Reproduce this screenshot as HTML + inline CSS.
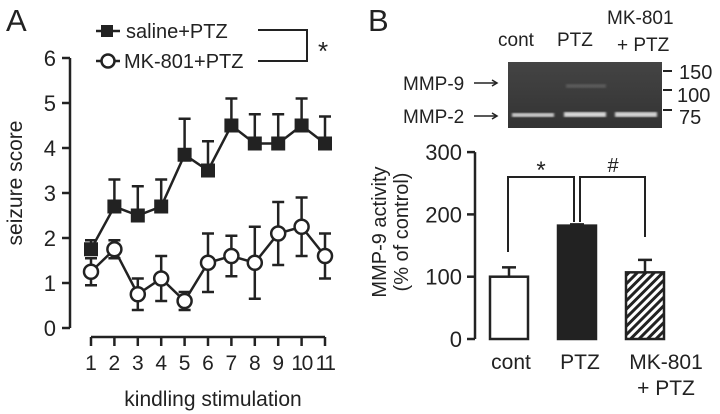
<!DOCTYPE html>
<html><head><meta charset="utf-8"><style>
html,body{margin:0;padding:0;background:#fff;width:720px;height:414px;overflow:hidden}
svg{display:block;font-family:"Liberation Sans",Arial,sans-serif;fill:#222}
</style></head><body>
<svg id="fig" width="720" height="414" viewBox="0 0 720 414">
<defs>
<pattern id="hatch" width="6" height="6" patternUnits="userSpaceOnUse" patternTransform="rotate(45)">
<rect width="6" height="6" fill="#fff"/><rect width="3" height="6" fill="#222"/></pattern>
<linearGradient id="gelg" x1="0" y1="0" x2="0" y2="1"><stop offset="0" stop-color="#444"/><stop offset="1" stop-color="#333"/></linearGradient>
<filter id="blur"><feGaussianBlur stdDeviation="1"/></filter>
</defs>
<text x="6" y="31" font-size="31">A</text>
<text x="368" y="31" font-size="31">B</text>
<g id="chartA"></g>
<g id="legendA">
<line x1="96" y1="31" x2="120" y2="31" stroke="#222" stroke-width="2.5"/>
<rect x="101" y="25" width="12" height="12" fill="#222"/>
<text x="126" y="38" font-size="20">saline+PTZ</text>
<line x1="96" y1="61" x2="120" y2="61" stroke="#222" stroke-width="2.5"/>
<circle cx="108" cy="61" r="6.5" fill="#fff" stroke="#222" stroke-width="2.5"/>
<text x="124" y="68" font-size="20">MK-801+PTZ</text>
<polyline points="258,30 307,30 307,61 258,61" fill="none" stroke="#222" stroke-width="2"/>
<text x="318" y="60" font-size="26">*</text>
</g>
<g>
<rect x="508" y="62" width="154" height="66" fill="url(#gelg)"/>
<rect x="566" y="84" width="40" height="4" fill="#666" opacity="0.7" filter="url(#blur)"/>
<rect x="512" y="113" width="42" height="4" fill="#ccc" filter="url(#blur)"/>
<rect x="564" y="112" width="42" height="5" fill="#d8d8d8" filter="url(#blur)"/>
<rect x="615" y="112" width="42" height="5" fill="#d4d4d4" filter="url(#blur)"/>
<g stroke="#222" stroke-width="2"><line x1="663" y1="71" x2="672" y2="71"/><line x1="663" y1="90" x2="672" y2="90"/><line x1="663" y1="110" x2="672" y2="110"/></g>
<g font-size="20"><text x="679" y="79">150</text><text x="677" y="102">100</text><text x="679" y="124">75</text></g>
<g font-size="19"><text x="498" y="46">cont</text><text x="557" y="46">PTZ</text><text x="607" y="24">MK-801</text><text x="617" y="51">+ PTZ</text></g>
<g font-size="19"><text x="403" y="90">MMP-9</text><text x="403" y="123">MMP-2</text></g>
<g stroke="#222" stroke-width="1.5" fill="none">
<line x1="474" y1="83" x2="497" y2="83"/><polyline points="492,80 497,83 492,86"/>
<line x1="474" y1="116" x2="497" y2="116"/><polyline points="492,113 497,116 492,119"/>
</g>
</g>
<g id="chartB"></g>
<script>
const stim=[1,2,3,4,5,6,7,8,9,10,11];
const salineMean=[1.75,2.7,2.5,2.7,3.85,3.5,4.5,4.1,4.1,4.5,4.1];
const salineErr=[0.2,0.6,0.65,0.6,0.8,0.65,0.6,0.65,0.65,0.6,0.6];
const mkMean=[1.25,1.75,0.75,1.1,0.6,1.45,1.6,1.45,2.1,2.25,1.6];
const mkErr=[0.3,0.2,0.35,0.5,0.2,0.65,0.45,0.8,0.7,0.65,0.5];
const yTicksA=[0,1,2,3,4,5,6];
const groups=["cont","PTZ","MK-801 + PTZ"];
const mmpMean=[100,182,107];
const mmpErr=[15,2,20];
const yTicksB=[0,100,200,300];
const NS="http://www.w3.org/2000/svg";
function mk(p,t,a){const e=document.createElementNS(NS,t);for(const k in a)e.setAttribute(k,a[k]);p.appendChild(e);return e;}
const A=document.getElementById('chartA');
const xA=i=>91+(i-1)*23.4, yA=v=>328-v*45;
mk(A,'line',{x1:70,y1:yA(0),x2:70,y2:yA(6),stroke:'#222','stroke-width':2.5});
yTicksA.forEach(t=>{mk(A,'line',{x1:62,y1:yA(t),x2:70,y2:yA(t),stroke:'#222','stroke-width':2.5});
const tx=mk(A,'text',{x:56,y:yA(t)+8,'font-size':22,'text-anchor':'end'});tx.textContent=t;

});
mk(A,'line',{x1:xA(1),y1:337,x2:xA(11),y2:337,stroke:'#222','stroke-width':2.5});
stim.forEach(s=>{mk(A,'line',{x1:xA(s),y1:337,x2:xA(s),y2:346,stroke:'#222','stroke-width':2.5});
const tx=mk(A,'text',{x:xA(s),y:370,'font-size':21,'text-anchor':'middle','letter-spacing':s>=10?'-1.5':'0'});tx.textContent=s;

});
const xt=mk(A,'text',{x:213,y:406,'font-size':21,'text-anchor':'middle'});xt.textContent='kindling stimulation';


const yt=mk(A,'text',{x:0,y:0,'font-size':21,'text-anchor':'middle',transform:'translate(22,183) rotate(-90)'});yt.textContent='seizure score';


function series(m,e,sq,name){
 mk(A,'polyline',{points:stim.map((s,i)=>xA(s)+','+yA(m[i])).join(' '),fill:'none',stroke:'#222','stroke-width':2.5});
 stim.forEach((s,i)=>{const x=xA(s),top=yA(m[i]+e[i]),bot=yA(m[i]-e[i]);
  const g=mk(A,'g',{});
  
  
  if(sq){mk(g,'line',{x1:x,y1:top,x2:x,y2:yA(m[i]),stroke:'#222','stroke-width':2.5});}
  else{mk(g,'line',{x1:x,y1:top,x2:x,y2:bot,stroke:'#222','stroke-width':2.5});mk(g,'line',{x1:x-6,y1:bot,x2:x+6,y2:bot,stroke:'#222','stroke-width':2.5});}
  mk(g,'line',{x1:x-6,y1:top,x2:x+6,y2:top,stroke:'#222','stroke-width':2.5});
  if(sq)mk(g,'rect',{x:x-7,y:yA(m[i])-7,width:14,height:14,fill:'#222'});
  else mk(g,'circle',{cx:x,cy:yA(m[i]),r:7,fill:'#fff',stroke:'#222','stroke-width':2.5});
 });}
series(mkMean,mkErr,false,'mk801');
series(salineMean,salineErr,true,'saline');
const B=document.getElementById('chartB');
const yB=v=>339-v*0.623;
const barX=[490,558,626],bw=38;
mk(B,'line',{x1:475,y1:yB(0),x2:475,y2:yB(300),stroke:'#222','stroke-width':2.5});
yTicksB.forEach(t=>{mk(B,'line',{x1:467,y1:yB(t),x2:475,y2:yB(t),stroke:'#222','stroke-width':2.5});
const tx=mk(B,'text',{x:462,y:yB(t)+8,'font-size':22,'text-anchor':'end'});tx.textContent=t;

});
const fills=['#fff','#222','url(#hatch)'];
groups.forEach((g,i)=>{const x=barX[i],cx=x+bw/2,top=yB(mmpMean[i]+mmpErr[i]);
 mk(B,'line',{x1:cx,y1:top,x2:cx,y2:yB(mmpMean[i]),stroke:'#222','stroke-width':2.5});
 mk(B,'line',{x1:cx-7,y1:top,x2:cx+7,y2:top,stroke:'#222','stroke-width':2.5});
 const r=mk(B,'rect',{x:x,y:yB(mmpMean[i]),width:bw,height:yB(0)-yB(mmpMean[i]),fill:fills[i],stroke:'#222','stroke-width':2.5});
 
 
});
const lb=[['cont',511,369],['PTZ',580,369],['MK-801',666,369],['+ PTZ',666,395]];
lb.forEach(l=>{const t=mk(B,'text',{x:l[1],y:l[2],'font-size':21,'text-anchor':'middle'});t.textContent=l[0];

});
mk(B,'polyline',{points:'508,252 508,177 574,177 574,222',fill:'none',stroke:'#222','stroke-width':2});
mk(B,'polyline',{points:'580,222 580,177 645,177 645,237',fill:'none',stroke:'#222','stroke-width':2});
const s1=mk(B,'text',{x:541,y:178,'font-size':24,'text-anchor':'middle'});s1.textContent='*';


const s2=mk(B,'text',{x:613,y:172,'font-size':20,'text-anchor':'middle'});s2.textContent='#';


const yl=mk(B,'text',{'font-size':20,'text-anchor':'middle',transform:'translate(386,232) rotate(-90)'});yl.textContent='MMP-9 activity';


const yl2=mk(B,'text',{'font-size':20,'text-anchor':'middle',transform:'translate(408,232) rotate(-90)'});yl2.textContent='(% of control)';


</script>
</svg>
</body></html>
